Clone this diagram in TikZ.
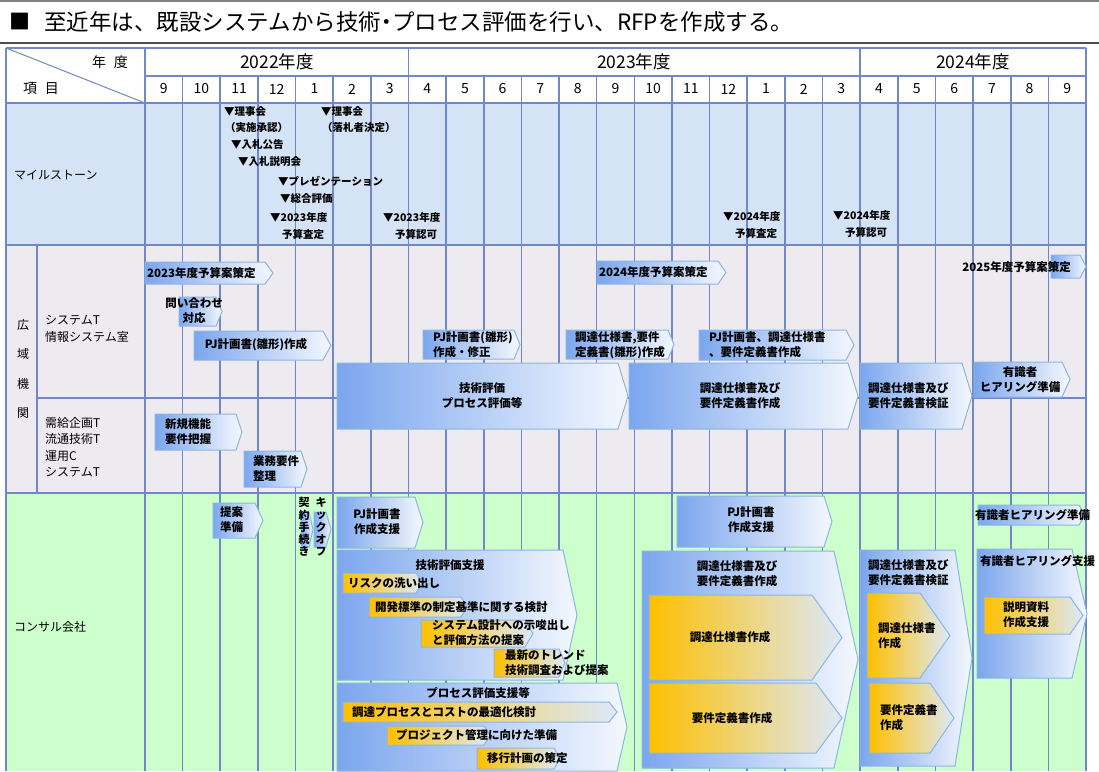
\documentclass[tikz,border=0pt]{standalone}
\usepackage{fontspec}
\setmainfont{Noto Sans CJK JP}
\definecolor{gridc}{HTML}{7088C8}
\definecolor{msbg}{HTML}{D4E3F5}
\definecolor{kbg}{HTML}{EDEBEF}
\definecolor{cbg}{HTML}{CCFFCC}
\definecolor{blueL}{HTML}{7BA6EE}
\definecolor{blueR}{HTML}{F4F8FE}
\definecolor{chevline}{HTML}{8DB5E3}
\definecolor{orng}{HTML}{FFC000}
\definecolor{orR}{HTML}{DDE9F9}
\definecolor{ttl}{HTML}{808080}
\newcommand\chevshape[6]{\path[chev,#6] (#1,#2) -- ({#3-#5},#2) -- (#3,{(#2+#4)/2}) -- ({#3-#5},#4) -- (#1,#4) -- cycle;}
\begin{document}
\begin{tikzpicture}[x=1pt,y=-1pt,
  grid/.style={draw=gridc,line width=1.6pt},
  chev/.style={draw=chevline,line width=1pt,left color=blueL,right color=blueR},
  orn/.style={left color=orng,right color=orR},
  lab/.style={inner sep=0pt,align=left,anchor=west,font=\bfseries\fontsize{11.5}{15}\selectfont},
  labc/.style={inner sep=0pt,align=center,font=\bfseries\fontsize{11.5}{15}\selectfont},
  ms/.style={inner sep=0pt,anchor=west,font=\bfseries\fontsize{10.5}{14}\selectfont},
  side/.style={inner sep=0pt,anchor=west,align=left,font=\fontsize{12}{16.5}\selectfont},
  vt/.style={inner sep=0pt,align=center,font=\bfseries\fontsize{11}{12.3}\selectfont},
  hd/.style={inner sep=0pt,font=\fontsize{14}{16}\selectfont},
  yr/.style={inner sep=0pt,font=\fontsize{17.5}{20}\selectfont}]
\useasboundingbox (0,0) rectangle (1099,771);
\fill[white] (0,0) rectangle (1099,771);
% title
\draw[ttl,line width=2.5pt] (0,1) -- (1099,1);
\draw[black!70,line width=1.8pt] (0,43) -- (1099,43);
\node[inner sep=0pt,font=\fontsize{21}{24}\selectfont] (sq) at (20,22) {■};
\node[inner sep=0pt,anchor=west,font=\fontsize{22.5}{26}\selectfont] (title) at (44,22) {至近年は、既設システムから技術\kern-0.25em・\kern-0.25emプロセス評価を行い、RFPを作成する。};
% backgrounds
\fill[msbg] (6,103) rectangle (1086,245);
\fill[kbg] (6,245) rectangle (1086,493);
\fill[cbg] (6,493) rectangle (1086,771);
% grid
\foreach \k in {0,...,25} \draw[grid] ({145+\k*37.64},76) -- ({145+\k*37.64},771);
\foreach \k in {0,7,19,25} \draw[grid] ({145+\k*37.64},48) -- ({145+\k*37.64},76);
\draw[grid] (6,48) -- (1086,48);
\draw[grid] (145,76) -- (1086,76);
\draw[grid] (6,103) -- (1086,103);
\draw[grid] (6,245) -- (1086,245);
\draw[grid] (6,493) -- (1086,493);
\draw[grid] (37,398) -- (1086,398);
\draw[grid] (37,245) -- (37,493);
\draw[grid] (6,48) -- (6,771);
\draw[draw=gridc,line width=1pt] (6,48) -- (145,103);
% header
\node[hd] (nendo) at (110,62) {年\hspace{8pt}度};
\node[hd] (komoku) at (41,89) {項\hspace{8pt}目};
\node[yr] (y22) at (277,62) {2022年度};
\node[yr] (y23) at (634,62) {2023年度};
\node[yr] (y24) at (973,62) {2024年度};
\foreach \m [count=\i from 0] in {9,10,11,12,1,2,3,4,5,6,7,8,9,10,11,12,1,2,3,4,5,6,7,8,9}
  \node[hd] (mo\i) at ({145+(\i+0.5)*37.64},89) {\m};
% side labels
\node[side] (msl) at (14,175) {マイルストーン};
\node[inner sep=0pt,align=center,font=\fontsize{12}{29.5}\selectfont] (kouiki) at (23,369) {広\\域\\機\\関};
\node[side] (sysT) at (45,329) {システムT\\情報システム室};
\node[side] (juk) at (45,447) {需給企画T\\流通技術T\\運用C\\システムT};
\node[side] (cons) at (14,627) {コンサル会社};
% milestones
\node[ms] (m1) at (224,112) {▼理事会};
\node[ms] (m1b) at (225,128) {（実施承認）};
\node[ms] (m2) at (231,145) {▼入札公告};
\node[ms] (m3) at (238,162) {▼入札説明会};
\node[ms] (m4) at (278,181) {▼プレゼンテーション};
\node[ms] (m5) at (280,199) {▼総合評価};
\node[ms] (m6) at (270,218) {▼2023年度};
\node[ms] (m6b) at (282,234) {予算査定};
\node[ms] (m7) at (321,112) {▼理事会};
\node[ms] (m7b) at (322,128) {（落札者決定）};
\node[ms] (m8) at (383,218) {▼2023年度};
\node[ms] (m8b) at (395,234) {予算認可};
\node[ms] (m9) at (723,217) {▼2024年度};
\node[ms] (m9b) at (735,233) {予算査定};
\node[ms] (m10) at (833,216) {▼2024年度};
\node[ms] (m10b) at (845,232) {予算認可};
% ---- 広域機関 tasks
\chevshape{145}{262}{273}{284}{8}{}
\node[lab] (k1) at (147,273) {2023年度予算案策定};
\chevshape{179}{297}{222}{326}{6}{}
\node[labc] (k2) at (194,311) {問い合わせ\\対応};
\chevshape{194}{331}{331}{360}{8}{}
\node[labc] (k3) at (256,345) {PJ計画書(雛形)作成};
\chevshape{423}{330}{520}{359}{6}{}
\node[lab] (k4) at (433,345) {PJ計画書(雛形)\\作成・修正};
\chevshape{566}{330}{674}{359}{6}{}
\node[lab] (k5) at (575,345) {調達仕様書,要件\\定義書(雛形)作成};
\chevshape{699}{330}{854}{360}{8}{}
\node[lab] (k6) at (709,345) {PJ計画書、調達仕様書\\、要件定義書作成};
\chevshape{597}{261}{726}{284}{8}{}
\node[lab] (k7) at (599,272) {2024年度予算案策定};
\chevshape{1051}{255}{1086}{278}{6}{}
\node[lab,anchor=east] (k8) at (1071,267) {2025年度予算案策定};
\chevshape{337}{363}{628}{429}{10}{}
\node[labc] (k9) at (482,396) {技術評価\\プロセス評価等};
\chevshape{629}{363}{858}{429}{10}{}
\node[labc] (k10) at (740,396) {調達仕様書及び\\要件定義書作成};
\chevshape{860}{363}{972}{429}{10}{}
\node[lab] (k11) at (868,396) {調達仕様書及び\\要件定義書検証};
\chevshape{974}{362}{1070}{397}{8}{}
\node[labc] (k12) at (1020,380) {有識者\\ヒアリング準備};
\chevshape{155}{414}{242}{450}{6}{}
\node[lab] (k13) at (165,432) {新規機能\\要件把握};
\chevshape{244}{451}{307}{487}{6}{}
\node[lab] (k14) at (253,469) {業務要件\\整理};
% ---- コンサル会社 tasks
\chevshape{213}{503}{263}{538}{8}{}
\node[lab] (c1) at (220,520) {提案\\準備};
\chevshape{301}{512}{313}{547}{4}{}
\node[vt] (c2) at (304,527) {契\\約\\手\\続\\き};
\chevshape{314}{512}{331}{547}{5}{}
\node[vt] (c3) at (321,527) {キ\\ッ\\ク\\オ\\フ};
\chevshape{337}{497}{423}{548}{8}{}
\node[labc] (c4) at (377,522) {PJ計画書\\作成支援};
\chevshape{337}{550}{577}{680}{14}{}
\node[labc] (c5) at (450,565) {技術評価支援};
\chevshape{343}{573}{422}{593}{6}{orn}
\node[lab] (c6) at (348,583) {リスクの洗い出し};
\chevshape{369}{597}{467}{617}{6}{orn}
\node[lab] (c7) at (375,607) {開発標準の制定基準に関する検討};
\chevshape{421}{620}{533}{647}{8}{orn}
\node[lab] (c8) at (432,633) {システム設計への示唆出し\\と評価方法の提案};
\chevshape{494}{649}{565}{677}{6}{orn}
\node[lab] (c9) at (505,663) {最新のトレンド\\技術調査および提案};
\chevshape{337}{683}{627}{771}{10}{}
\node[labc] (c10) at (478,693) {プロセス評価支援等};
\chevshape{343}{702}{617}{722}{8}{orn}
\node[lab] (c11) at (352,712) {調達プロセスとコストの最適化検討};
\chevshape{387}{726}{490}{745}{6}{orn}
\node[lab] (c12) at (396,735) {プロジェクト管理に向けた準備};
\chevshape{477}{748}{560}{769}{6}{orn}
\node[lab] (c13) at (487,758) {移行計画の策定};
\chevshape{677}{496}{832}{547}{8}{}
\node[labc] (c14) at (751,520) {PJ計画書\\作成支援};
\chevshape{642}{551}{858}{768}{24}{}
\node[labc] (c15) at (737,574) {調達仕様書及び\\要件定義書作成};
\chevshape{649}{595}{842}{680}{30}{orn}
\node[labc] (c16) at (730,637) {調達仕様書作成};
\chevshape{649}{683}{842}{753}{26}{orn}
\node[labc] (c17) at (732,718) {要件定義書作成};
\chevshape{860}{550}{972}{766}{17}{}
\node[lab] (c18) at (868,573) {調達仕様書及び\\要件定義書検証};
\chevshape{867}{593}{950}{678}{30}{orn}
\node[lab] (c19) at (878,636) {調達仕様書\\作成};
\chevshape{869}{683}{954}{753}{24}{orn}
\node[lab] (c20) at (880,718) {要件定義書\\作成};
\chevshape{978}{505}{1085}{525}{6}{}
\node[lab] (c21) at (975,515) {有識者ヒアリング準備};
\chevshape{977}{549}{1087}{678}{15}{}
\node[lab] (c22) at (980,561) {有識者ヒアリング支援};
\chevshape{984}{597}{1083}{634}{13}{orn}
\node[lab] (c23) at (1003,615) {説明資料\\作成支援};
\end{tikzpicture}
\end{document}
